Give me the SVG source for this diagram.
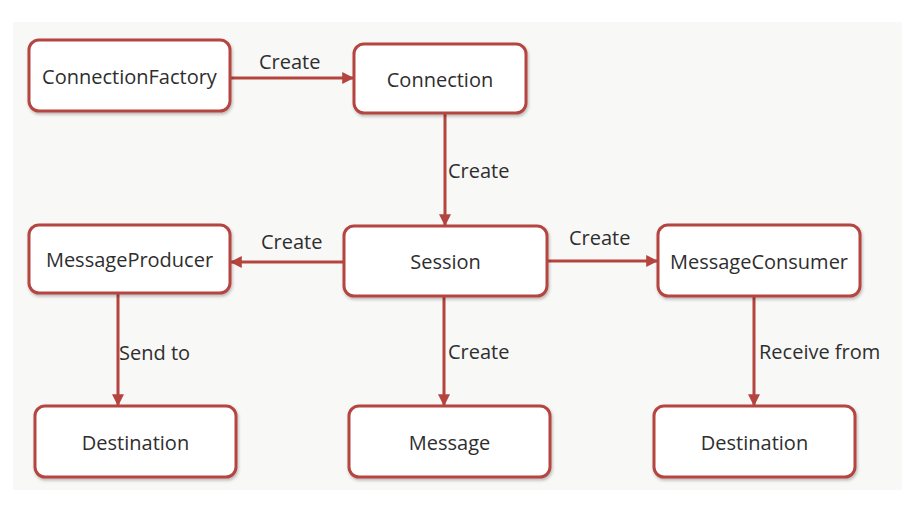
<svg xmlns="http://www.w3.org/2000/svg" width="921" height="524" viewBox="0 0 921 524">
  <defs>
    <marker id="arrow" viewBox="0 0 10 10" refX="9" refY="5" markerWidth="4" markerHeight="4" orient="auto" markerUnits="strokeWidth">
      <path d="M0,0 L10,5 L0,10 z" fill="#b5443f"/>
    </marker>
    <filter id="shadow" x="-10%" y="-10%" width="120%" height="130%">
      <feDropShadow dx="1" dy="2" stdDeviation="1.5" flood-color="#000" flood-opacity="0.25"/>
    </filter>
    <style>
      .box { fill: #ffffff; stroke: #b5443f; stroke-width: 3; filter: url(#shadow); }
      .label { font-family: "Open Sans", "Noto Sans", sans-serif; font-size: 20px; fill: #2e2e2e; text-anchor: middle; dominant-baseline: central; }
      .edge-label { font-family: "Open Sans", "Noto Sans", sans-serif; font-size: 20px; fill: #2e2e2e; }
      .link { stroke: #b5443f; stroke-width: 3; fill: none; marker-end: url(#arrow); }
    </style>
  </defs>

  <rect x="0" y="0" width="921" height="524" fill="#ffffff"/>
  <rect x="13" y="22" width="889" height="468" fill="#f8f8f7"/>

  <g id="connectors">
    <line class="link" x1="230" y1="78" x2="353" y2="78"/>
    <line class="link" x1="445" y1="113" x2="445" y2="225"/>
    <line class="link" x1="344" y1="262" x2="231" y2="262"/>
    <line class="link" x1="547" y1="261" x2="657" y2="261"/>
    <line class="link" x1="118" y1="293" x2="118" y2="405"/>
    <line class="link" x1="444" y1="296" x2="444" y2="405"/>
    <line class="link" x1="754" y1="296" x2="754" y2="405"/>
    <text class="edge-label" x="259" y="69">Create</text>
    <text class="edge-label" x="448" y="178">Create</text>
    <text class="edge-label" x="261" y="249">Create</text>
    <text class="edge-label" x="569" y="245">Create</text>
    <text class="edge-label" x="119" y="360">Send to</text>
    <text class="edge-label" x="448" y="359">Create</text>
    <text class="edge-label" x="759" y="359">Receive from</text>
  </g>

  <g id="connection-factory">
    <rect class="box" x="29" y="40" width="201" height="71" rx="10"/>
    <text class="label" x="129.5" y="76">ConnectionFactory</text>
  </g>
  <g id="connection">
    <rect class="box" x="354" y="44" width="172" height="69" rx="10"/>
    <text class="label" x="440" y="79">Connection</text>
  </g>
  <g id="message-producer">
    <rect class="box" x="29" y="225" width="201" height="68" rx="10"/>
    <text class="label" x="129.5" y="259">MessageProducer</text>
  </g>
  <g id="session">
    <rect class="box" x="344" y="226" width="203" height="70" rx="10"/>
    <text class="label" x="445.5" y="261">Session</text>
  </g>
  <g id="message-consumer">
    <rect class="box" x="658" y="225" width="202" height="71" rx="10"/>
    <text class="label" x="759" y="261">MessageConsumer</text>
  </g>
  <g id="destination-send">
    <rect class="box" x="35" y="406" width="201" height="71" rx="10"/>
    <text class="label" x="135.5" y="442">Destination</text>
  </g>
  <g id="message">
    <rect class="box" x="349" y="406" width="201" height="71" rx="10"/>
    <text class="label" x="449.5" y="442">Message</text>
  </g>
  <g id="destination-receive">
    <rect class="box" x="654" y="406" width="201" height="71" rx="10"/>
    <text class="label" x="754.5" y="442">Destination</text>
  </g>
</svg>
